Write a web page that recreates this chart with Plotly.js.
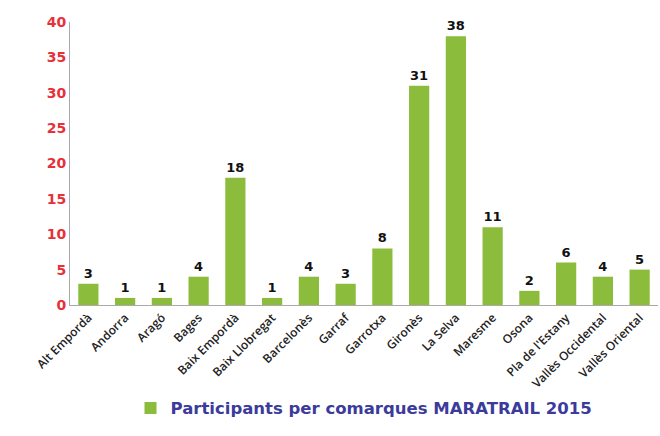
<!DOCTYPE html>
<html><head><meta charset="utf-8">
<script src="https://cdn.plot.ly/plotly-3.0.1.min.js"></script>
<style>body{margin:0;background:#fff}#c{width:660px;height:436px}</style>
</head><body><div id="c"></div>
<script>
const comarques = ["Alt Empordà","Andorra","Aragó","Bages","Baix Empordà","Baix Llobregat","Barcelonès","Garraf","Garrotxa","Gironès","La Selva","Maresme","Osona","Pla de l'Estany","Vallès Occidental","Vallès Oriental"];
const participants = [3,1,1,4,18,1,4,3,8,31,38,11,2,6,4,5];
const yTicks = [0,5,10,15,20,25,30,35,40];
const seriesName = "Participants per comarques MARATRAIL 2015";

Plotly.newPlot('c', [{
  type: 'bar', x: comarques, y: participants, name: seriesName,
  marker: {color: '#8cbc3c'},
  text: participants.map(String), textposition: 'outside', cliponaxis: false,
  textfont: {family: 'DejaVu Sans', size: 13, color: '#111', weight: 'bold'}
}], {
  width: 660, height: 436,
  margin: {l: 70, r: 2, t: 22, b: 131},
  paper_bgcolor: '#fff', plot_bgcolor: '#fff',
  bargap: 0.45,
  showlegend: true,
  legend: {orientation: 'h', x: 0.5, xanchor: 'center', y: -0.365, yanchor: 'middle',
    font: {family: 'DejaVu Sans', size: 16.5, color: '#3b3b9b', weight: 'bold'}},
  xaxis: {showline: true, linecolor: '#aaa', linewidth: 1, tickangle: -45, ticks: '',
    tickfont: {family: 'Open Sans', size: 12, color: '#222', weight: 600}, automargin: false},
  yaxis: {range: [0, 40], tickvals: yTicks, showgrid: false, zeroline: false,
    showline: true, linecolor: '#aaa', linewidth: 1, ticks: '', ticklen: 0,
    tickfont: {family: 'DejaVu Sans', size: 14, color: '#e8303a', weight: 'bold'}, automargin: false}
}, {displayModeBar: false});
</script></body></html>
